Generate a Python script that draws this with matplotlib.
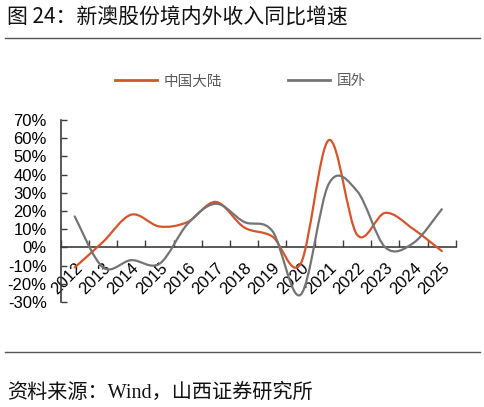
import matplotlib.pyplot as plt
from matplotlib.path import Path
from matplotlib.patches import PathPatch
from matplotlib.lines import Line2D
from matplotlib.ticker import FixedLocator, FuncFormatter

years = ['2012', '2013', '2014', '2015', '2016', '2017', '2018',
         '2019', '2020', '2021', '2022', '2023', '2024', '2025']
mainland = [-11, 3, 18, 11.5, 14, 25, 11, 6, -9, 59, 7, 19, 10, -2]
overseas = [17, -11, -7, -9, 13, 24, 14, 9, -26, 35, 31, 0, 2.5, 21]
series_names = ['中国大陆', '国外']
yticks = [-30, -20, -10, 0, 10, 20, 30, 40, 50, 60, 70]

ORANGE = '#D6542A'
GRAY = '#747474'
AXIS = '#3C3C3C'


def smooth_path(xs, ys):
    # excel-like smoothed line: cubic bezier segments (catmull-rom control points)
    pts = list(zip(xs, ys))
    n = len(pts)
    verts = [pts[0]]
    codes = [Path.MOVETO]
    for i in range(n - 1):
        p0 = pts[i - 1] if i > 0 else pts[i]
        p1 = pts[i]
        p2 = pts[i + 1]
        p3 = pts[i + 2] if i + 2 < n else pts[i + 1]
        c1 = (p1[0] + (p2[0] - p0[0]) / 6, p1[1] + (p2[1] - p0[1]) / 6)
        c2 = (p2[0] - (p3[0] - p1[0]) / 6, p2[1] - (p3[1] - p1[1]) / 6)
        verts += [c1, c2, p2]
        codes += [Path.CURVE4] * 3
    return Path(verts, codes)


fig = plt.figure(figsize=(4.85, 4.07), dpi=100)
ax = fig.add_axes([0.125, 0.258, 0.815, 0.447])

x = list(range(len(years)))
for vals, col in [(mainland, ORANGE), (overseas, GRAY)]:
    ax.add_patch(PathPatch(smooth_path(x, vals), fill=False, edgecolor=col,
                           linewidth=1.6, capstyle='round', zorder=3))

ax.set_xlim(-0.5, len(years) - 0.5)
ax.set_ylim(-30, 70)

for s in ['top', 'right']:
    ax.spines[s].set_visible(False)
ax.spines['bottom'].set_position(('data', 0))
for s in ['left', 'bottom']:
    ax.spines[s].set_color(AXIS)
    ax.spines[s].set_linewidth(1.2)

# y axis
ax.set_yticks(yticks)
ax.yaxis.set_major_formatter(FuncFormatter(lambda v, p: f'{int(v)}%'))
ax.tick_params(axis='y', direction='in', length=4, width=1.0, color=AXIS,
               labelsize=12, pad=10)
for lab in ax.get_yticklabels():
    lab.set_family('Liberation Sans')

# x axis: boundary ticks, labels at category centres
ax.xaxis.set_major_locator(FixedLocator([i - 0.5 for i in range(len(years) + 1)]))
ax.xaxis.set_major_formatter(FuncFormatter(lambda v, p: ''))
ax.xaxis.set_minor_locator(FixedLocator(x))
ax.set_xticklabels(years, minor=True)
ax.tick_params(axis='x', which='major', direction='in', length=5, width=1.0, color=AXIS)
ax.tick_params(axis='x', which='minor', length=0, labelsize=12, pad=9)
for lab in ax.get_xticklabels(minor=True):
    lab.set_rotation(45)
    lab.set_ha('right')
    lab.set_va('top')
    lab.set_rotation_mode('anchor')
    lab.set_family('Liberation Sans')

# legend
handles = [Line2D([], [], color=ORANGE, lw=2), Line2D([], [], color=GRAY, lw=2)]
fig.legend(handles, series_names, loc='center', bbox_to_anchor=(0.496, 0.80),
           ncol=2, frameon=False, handlelength=2.9, handletextpad=0.45,
           columnspacing=4.5,
           prop={'family': 'Noto Sans CJK SC', 'size': 10.5}, labelcolor='#595959')

# title, rules and source
fig.text(0.014, 0.957, '图 24：新澳股份境内外收入同比增速', fontsize=15,
         family=['Noto Sans CJK SC'], va='center', color='#111111')
fig.add_artist(Line2D([0.01, 0.99], [0.907, 0.907], color='#555555', lw=1.0))
fig.add_artist(Line2D([0.01, 0.99], [0.135, 0.135], color='#555555', lw=1.0))
fig.text(0.014, 0.035, '资料来源：Wind，山西证券研究所', fontsize=14.5,
         family=['Liberation Serif', 'Noto Sans CJK SC'], va='center', color='#111111')

fig.savefig('out.png', dpi=100)
